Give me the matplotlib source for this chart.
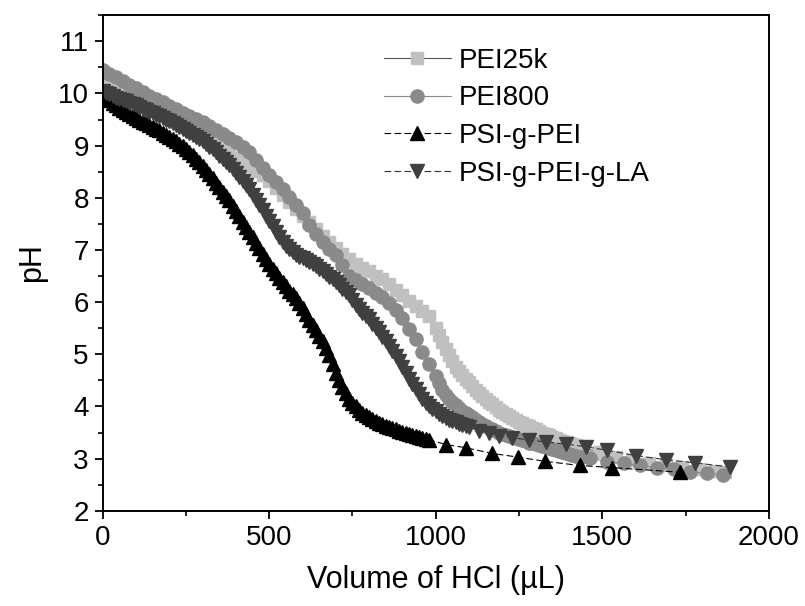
import matplotlib
matplotlib.use("Agg")
import matplotlib.pyplot as plt
from matplotlib.ticker import MultipleLocator

plt.rcParams['font.family'] = ['Liberation Sans', 'DejaVu Sans']

# titration volumes (µL), added in regular steps, then sparser at the end
# PEI25k
v_pei25k = (list(range(0, 1000, 20)) + list(range(1000, 1450, 10))
            + [1490, 1540, 1590, 1640, 1690, 1740, 1790, 1840, 1870])
ph_pei25k = [10.23, 10.16, 10.09, 10.02, 9.95, 9.88, 9.81, 9.74, 9.67, 9.60,
             9.53, 9.46, 9.38, 9.31, 9.25, 9.18, 9.10, 9.03, 8.94, 8.85,
             8.76, 8.68, 8.61, 8.52, 8.43, 8.33, 8.19, 8.05, 7.91, 7.78,
             7.66, 7.53, 7.40, 7.27, 7.15, 7.03, 6.92, 6.82, 6.74, 6.66,
             6.59, 6.51, 6.44, 6.34, 6.23, 6.13, 6.03, 5.93, 5.83, 5.73,
             5.50, 5.37, 5.24, 5.11, 4.98, 4.87, 4.76, 4.68, 4.60, 4.53,
             4.46, 4.39, 4.32, 4.26, 4.20, 4.14, 4.09, 4.04, 3.99, 3.94,
             3.90, 3.86, 3.82, 3.78, 3.75, 3.71, 3.68, 3.65, 3.62, 3.59,
             3.56, 3.53, 3.50, 3.47, 3.45, 3.42, 3.39, 3.36, 3.34, 3.32,
             3.30, 3.28, 3.26, 3.24, 3.22,
             3.12, 3.03, 2.97, 2.92, 2.88, 2.84, 2.80, 2.77, 2.75]

# PEI800
v_pei800 = (list(range(0, 1001, 20)) + list(range(1010, 1450, 10))
            + [1464, 1514, 1564, 1614, 1664, 1714, 1764, 1814, 1864])
ph_pei800 = [10.45, 10.38, 10.31, 10.24, 10.17, 10.10, 10.03, 9.96, 9.90, 9.83,
             9.76, 9.70, 9.63, 9.57, 9.51, 9.45, 9.38, 9.30, 9.22, 9.15,
             9.07, 8.97, 8.87, 8.73, 8.57, 8.43, 8.30, 8.17, 8.02, 7.87,
             7.70, 7.47, 7.30, 7.15, 7.02, 6.90, 6.72, 6.50, 6.42, 6.35,
             6.27, 6.18, 6.09, 5.98, 5.85, 5.70, 5.48, 5.30, 5.05, 4.82,
             4.59,
             4.45, 4.32, 4.22, 4.14, 4.08, 4.02, 3.97, 3.92, 3.88, 3.84,
             3.79, 3.75, 3.70, 3.66, 3.62, 3.59, 3.56, 3.53, 3.50, 3.48,
             3.45, 3.43, 3.41, 3.39, 3.37, 3.35, 3.33, 3.31, 3.30, 3.28,
             3.26, 3.24, 3.22, 3.20, 3.18, 3.16, 3.14, 3.12, 3.10, 3.09,
             3.07, 3.06, 3.04, 3.03,
             3.01, 2.94, 2.91, 2.87, 2.83, 2.80, 2.75, 2.72, 2.69]

# PSI-g-PEI
v_psi = list(range(0, 990, 10)) + [1032, 1090, 1170, 1247, 1327, 1432, 1528, 1733]
ph_psi = [9.95, 9.91, 9.87, 9.82, 9.78, 9.73, 9.69, 9.65, 9.61, 9.57,
          9.53, 9.50, 9.46, 9.43, 9.39, 9.36, 9.32, 9.29, 9.25, 9.21,
          9.17, 9.13, 9.08, 9.04, 9.00, 8.94, 8.88, 8.82, 8.75, 8.68,
          8.61, 8.53, 8.45, 8.37, 8.29, 8.21, 8.12, 8.04, 7.95, 7.85,
          7.75, 7.65, 7.54, 7.44, 7.34, 7.24, 7.13, 7.03, 6.93, 6.83,
          6.74, 6.64, 6.55, 6.46, 6.38, 6.30, 6.22, 6.15, 6.07, 5.98,
          5.88, 5.77, 5.66, 5.57, 5.47, 5.36, 5.25, 5.13, 4.99, 4.82,
          4.65, 4.50, 4.37, 4.25, 4.14, 4.07, 4.00, 3.94, 3.88, 3.84,
          3.80, 3.76, 3.72, 3.69, 3.66, 3.63, 3.61, 3.58, 3.56, 3.53,
          3.51, 3.49, 3.47, 3.45, 3.43, 3.41, 3.40, 3.38, 3.36,
          3.27, 3.21, 3.10, 3.03, 2.95, 2.87, 2.83, 2.74]

# PSI-g-PEI-g-LA
v_la = (list(range(0, 1101, 10))
        + [1130, 1160, 1190, 1230, 1280, 1330, 1390, 1450, 1515, 1600, 1690, 1778, 1883])
ph_la = [10.04, 10.01, 9.98, 9.95, 9.92, 9.90, 9.87, 9.85, 9.82, 9.80,
         9.77, 9.74, 9.71, 9.68, 9.65, 9.62, 9.59, 9.56, 9.53, 9.50,
         9.47, 9.44, 9.40, 9.36, 9.32, 9.28, 9.24, 9.20, 9.16, 9.12,
         9.08, 9.03, 8.98, 8.93, 8.87, 8.81, 8.75, 8.69, 8.62, 8.55,
         8.48, 8.40, 8.32, 8.24, 8.16, 8.06, 7.96, 7.86, 7.76, 7.66,
         7.56, 7.45, 7.35, 7.25, 7.15, 7.07, 7.01, 6.96, 6.91, 6.87,
         6.84, 6.80, 6.76, 6.73, 6.69, 6.64, 6.59, 6.54, 6.49, 6.44,
         6.39, 6.33, 6.26, 6.20, 6.13, 6.04, 5.95, 5.87, 5.80, 5.73,
         5.67, 5.59, 5.51, 5.43, 5.34, 5.25, 5.15, 5.06, 4.97, 4.87,
         4.76, 4.65, 4.53, 4.43, 4.33, 4.23, 4.14, 4.07, 4.00, 3.95,
         3.91, 3.86, 3.82, 3.78, 3.75, 3.72, 3.70, 3.67, 3.64, 3.62,
         3.60,
         3.54, 3.49, 3.44, 3.40, 3.36, 3.32, 3.28, 3.23, 3.16, 3.06, 2.98, 2.92, 2.84]

fig = plt.figure(figsize=(8.05, 6.06), dpi=100)
ax = fig.add_axes([0.1276, 0.157, 0.8274, 0.818])

ax.plot(v_pei25k, ph_pei25k, ls='-', lw=0.8, color='#555555', marker='s', ms=8.5,
        mfc='#c0c0c0', mec='#c0c0c0', label='PEI25k')
ax.plot(v_pei800, ph_pei800, ls='-', lw=0.8, color='#8a8a8a', marker='o', ms=9.5,
        mfc='#8a8a8a', mec='#8a8a8a', label='PEI800')
ax.plot(v_psi, ph_psi, ls=(0, (6, 3)), lw=0.8, color='#000000', marker='^', ms=10,
        mfc='#000000', mec='#000000', label='PSI-g-PEI')
ax.plot(v_la, ph_la, ls=(0, (6, 3)), lw=0.8, color='#333333', marker='v', ms=10,
        mfc='#404040', mec='#404040', label='PSI-g-PEI-g-LA')

ax.set_xlim(0, 2000)
ax.set_ylim(2, 11.5)
ax.xaxis.set_major_locator(MultipleLocator(500))
ax.xaxis.set_minor_locator(MultipleLocator(250))
ax.yaxis.set_major_locator(MultipleLocator(1))
ax.yaxis.set_minor_locator(MultipleLocator(0.5))
ax.tick_params(which='major', direction='out', length=6, width=1.3, labelsize=20,
               top=False, right=False, pad=4)
ax.tick_params(which='minor', direction='out', length=3.5, width=1.2, top=False, right=False)
for s in ax.spines.values():
    s.set_linewidth(1.4)

ax.set_xlabel('Volume of HCl (µL)', fontsize=22, labelpad=10)
ax.set_ylabel('pH', fontsize=22, labelpad=8)

ax.legend(loc='upper left', bbox_to_anchor=(0.385, 0.985), frameon=False, fontsize=20,
          handlelength=2.4, handletextpad=0.3, labelspacing=0.42)

fig.savefig('out.png', dpi=100)
